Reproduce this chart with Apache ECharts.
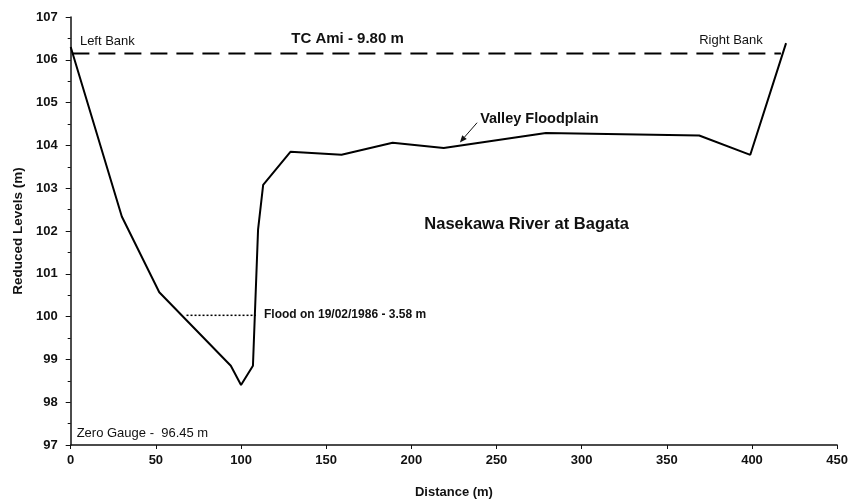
<!DOCTYPE html>
<html>
<head>
<meta charset="utf-8">
<script src="https://cdn.jsdelivr.net/npm/echarts@6/dist/echarts.min.js"></script>
<style>
html,body{margin:0;padding:0;background:#fff;}
#chart{width:851px;height:504px;}
</style>
</head>
<body>
<div id="chart"></div>
<script>
// Cross-section profile: distance (m) and reduced level (m)
const distance = [0, 30, 52, 94, 100, 107, 110, 113, 129, 159, 189, 219, 279, 369, 399, 420];
const level    = [106.30, 102.34, 100.57, 98.85, 98.40, 98.85, 102.03, 103.08, 103.85, 103.78, 104.06, 103.94, 104.29, 104.23, 103.78, 106.39];

// TC Ami high-water line
const tcAmiX = [1, 417];
const tcAmiLevel = 106.15;

// Flood on 19/02/1986
const floodX = [68, 108.7];
const floodLevel = 100.03;

// Axis ticks
const xTicks = [0, 50, 100, 150, 200, 250, 300, 350, 400, 450];
const yTicks = [97, 98, 99, 100, 101, 102, 103, 104, 105, 106, 107];

// Annotation texts with their anchor (left edge, middle) in data coordinates
const annoText = ["Left Bank", "TC Ami - 9.80 m", "Right Bank", "Valley Floodplain", "Nasekawa River at Bagata", "Flood on 19/02/1986 - 3.58 m", "Zero Gauge -  96.45 m"];
const annoX    = [5.4, 129.5, 369, 240.4, 207.6, 113.5, 3.5];
const annoY    = [106.44, 106.50, 106.46, 104.61, 102.15, 100.05, 97.28];

const FONT = '"Liberation Sans", Arial, Helvetica, sans-serif';

const profile = distance.map((d, i) => [d, level[i]]);
const tcLine = tcAmiX.map(x => [x, tcAmiLevel]);
const floodLine = floodX.map(x => [x, floodLevel]);

const chart = echarts.init(document.getElementById('chart'), null, {renderer: 'canvas'});

const option = {
  animation: false,
  backgroundColor: '#ffffff',
  grid: {left: 70.7, right: 12, top: 17, bottom: 58},
  xAxis: {
    type: 'value',
    min: xTicks[0], max: xTicks[xTicks.length - 1], interval: 50,
    name: 'Distance (m)', nameLocation: 'middle', nameGap: 41,
    nameTextStyle: {fontFamily: FONT, fontWeight: 'bold', fontSize: 13, color: '#111'},
    axisLine: {onZero: false, lineStyle: {color: '#111', width: 1.5}},
    axisTick: {show: true, inside: false, length: 4, lineStyle: {color: '#111', width: 1}},
    axisLabel: {fontFamily: FONT, fontWeight: 'bold', fontSize: 13, color: '#111', margin: 9},
    splitLine: {show: false}
  },
  yAxis: {
    type: 'value',
    min: yTicks[0], max: yTicks[yTicks.length - 1], interval: 1,
    name: 'Reduced Levels (m)', nameLocation: 'middle', nameGap: 44, nameRotate: 90,
    nameTextStyle: {fontFamily: FONT, fontWeight: 'bold', fontSize: 13.5, color: '#111'},
    axisLine: {onZero: false, lineStyle: {color: '#111', width: 1.5}},
    axisTick: {show: true, inside: false, length: 5, lineStyle: {color: '#111', width: 1}},
    minorTick: {show: true, splitNumber: 2, length: 3, lineStyle: {color: '#111', width: 1}},
    axisLabel: {fontFamily: FONT, fontWeight: 'bold', fontSize: 13, color: '#111', margin: 13},
    splitLine: {show: false}
  },
  series: [
    {
      name: 'Profile', type: 'line', data: profile, showSymbol: false, symbol: 'none',
      lineStyle: {color: '#000', width: 2}, z: 3
    },
    {
      name: 'TC Ami', type: 'line', data: tcLine, showSymbol: false, symbol: 'none',
      lineStyle: {color: '#000', width: 2, type: [17, 9]}, z: 2
    },
    {
      name: 'Flood', type: 'line', data: floodLine, showSymbol: false, symbol: 'none',
      lineStyle: {color: '#000', width: 1.5, type: [2, 2]}, z: 2
    }
  ]
};
chart.setOption(option);

// Annotation styles
const styles = [
  {size: 13, weight: 'normal'},
  {size: 15, weight: 'bold'},
  {size: 13, weight: 'normal'},
  {size: 14.5, weight: 'bold'},
  {size: 16.5, weight: 'bold'},
  {size: 12, weight: 'bold'},
  {size: 13, weight: 'normal'}
];
const graphics = [];
annoText.forEach((t, i) => {
  const p = chart.convertToPixel({gridIndex: 0}, [annoX[i], annoY[i]]);
  const s = styles[i];
  graphics.push({
    type: 'text', x: p[0], y: p[1], z: 10,
    style: {text: t, fill: '#111', font: s.weight + ' ' + s.size + 'px ' + FONT, textAlign: 'left', textVerticalAlign: 'middle'}
  });
});
// Arrow from the "Valley Floodplain" label to the ground line
const a0 = chart.convertToPixel({gridIndex: 0}, [238.6, 104.53]);
const a1 = chart.convertToPixel({gridIndex: 0}, [228.5, 104.07]);
const ang = Math.atan2(a1[1] - a0[1], a1[0] - a0[0]);
const hl = 7, hw = 3;
const bx = a1[0] - hl * Math.cos(ang), by = a1[1] - hl * Math.sin(ang);
graphics.push({type: 'line', z: 10, shape: {x1: a0[0], y1: a0[1], x2: bx, y2: by}, style: {stroke: '#111', lineWidth: 1}});
graphics.push({type: 'polygon', z: 10, shape: {points: [
  [a1[0], a1[1]],
  [bx + hw * Math.sin(ang), by - hw * Math.cos(ang)],
  [bx - hw * Math.sin(ang), by + hw * Math.cos(ang)]
]}, style: {fill: '#111'}});
chart.setOption({graphic: graphics});
</script>
</body>
</html>
